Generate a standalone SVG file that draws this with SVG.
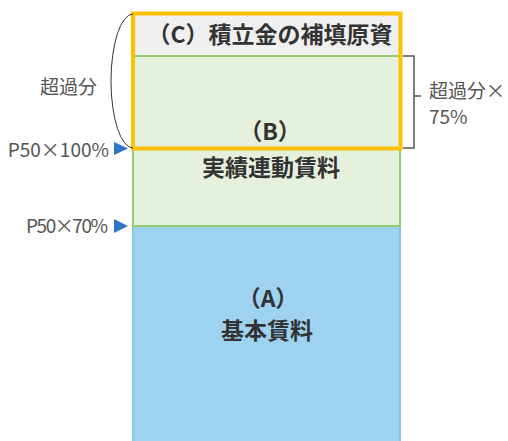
<svg xmlns="http://www.w3.org/2000/svg" width="508" height="441" viewBox="0 0 508 441">
<style>
.main{font-family:"Noto Sans CJK JP","Noto Sans",sans-serif;font-weight:bold;font-size:23px;fill:#333;text-anchor:middle}
.side{font-family:"Noto Sans CJK JP","Noto Sans",sans-serif;font-size:19px;fill:#555}
.tri{fill:#2E75C6}
</style>
<rect width="508" height="441" fill="#fff"/>
<g id="node-A">
<rect x="133" y="226" width="267" height="220" fill="#9DD3F1" stroke="#89C6EA" stroke-width="2"/>
<text class="main" x="268" y="307">（A）</text>
<text class="main" x="267" y="339">基本賃料</text>
</g>
<g id="node-B">
<rect x="133" y="56" width="267" height="170" fill="#E5F0DD" stroke="#92CC6E" stroke-width="2"/>
<text class="main" x="270" y="140">（B）</text>
<text class="main" x="271" y="176">実績連動賃料</text>
</g>
<g id="node-C">
<rect x="133" y="14" width="267" height="42" fill="#F0F0F0"/>
<line x1="133" y1="56" x2="400" y2="56" stroke="#92CC6E" stroke-width="2"/>
<text class="main" x="270" y="43">（C）積立金の補填原資</text>
</g>
<g id="frame">
<rect x="133" y="13.5" width="267.5" height="135" fill="none" stroke="#FFC000" stroke-width="4"/>
</g>
<g id="labels">
<text class="side" x="40" y="94" font-size="20">超過分</text>
<text class="side" x="109" y="157" text-anchor="end">P50×100%</text>
<text class="side" x="26" y="233" textLength="82" lengthAdjust="spacing">P50×70%</text>
<text class="side" x="429" y="98">超過分×</text>
<text class="side" x="429" y="124">75%</text>
</g>
<g id="connectors">
<path d="M133 14 A22 67 0 0 0 133 148" fill="none" stroke="#333" stroke-width="1"/>
<path d="M403 56 H414 V148 H403 M414 96 H421" fill="none" stroke="#555" stroke-width="1.5"/>
<polygon class="tri" points="114,142 128,148.5 114,155"/>
<polygon class="tri" points="114,219 128,226 114,233"/>
</g>
</svg>
